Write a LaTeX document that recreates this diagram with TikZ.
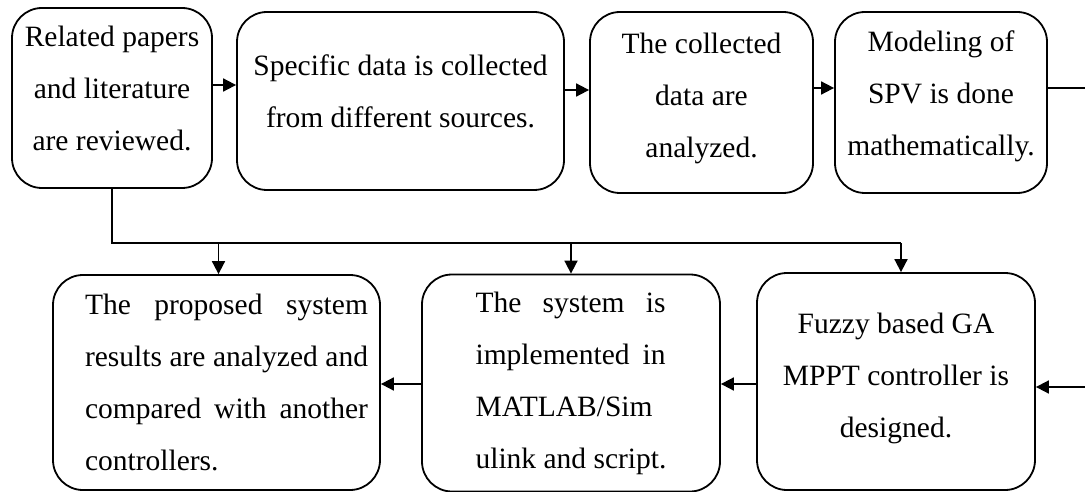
\documentclass[tikz,border=0pt]{standalone}
\usepackage{fontspec}
\setmainfont{Liberation Serif}
\usetikzlibrary{arrows.meta}
\newcommand\jline[2]{\makebox[#1][s]{#2}}
\begin{document}
\begin{tikzpicture}[x=1pt,y=-1pt,
  box/.style={draw,line width=1.8pt,rounded corners=30pt,inner sep=0pt,align=center,
    font=\fontsize{29.5}{52}\selectfont},
  conn/.style={line width=1.8pt},
  arr/.style={line width=1.8pt,-{Triangle[length=13pt,width=13pt]}}]
\useasboundingbox (0,0) rectangle (1085,492);
\node[box,minimum width=200pt,minimum height=180pt,text depth=19pt] (b1) at (112,98) {Related papers\\and literature\\are reviewed.};
\node[box,minimum width=327pt,minimum height=178pt,text depth=20pt] (b2) at (400.5,101) {Specific data is collected\\from different sources.};
\node[box,minimum width=223pt,minimum height=181pt,text depth=15pt] (b3) at (701.5,102.5) {The collected\\data are\\analyzed.};
\node[box,minimum width=212pt,minimum height=181pt,text depth=19pt] (b4) at (941,102.5) {Modeling of\\SPV is done\\mathematically.};
\node[box,minimum width=327pt,minimum height=215pt,align=left] (b5) at (216.5,382.5)
  {\hspace*{20pt}\jline{283pt}{The proposed system}\\\hspace*{20pt}\jline{283pt}{results are analyzed and}\\\hspace*{20pt}\jline{283pt}{compared with another}\\\hspace*{20pt}controllers.};
\node[box,minimum width=298pt,minimum height=217pt,align=left] (b6) at (571,383)
  {\jline{190pt}{The system is}\\\jline{190pt}{implemented in}\\MATLAB/Sim\\ulink and script.};
\node[box,minimum width=278pt,minimum height=217pt,text depth=13pt] (b7) at (896,381.5) {Fuzzy based GA\\MPPT controller is\\designed.};
\coordinate (ya) at (0,85);
\coordinate (yb) at (0,90);
\coordinate (yc) at (0,88);
\coordinate (bus) at (0,243);
\coordinate (yd) at (0,384);
\coordinate (ye) at (0,387);
\coordinate (loop) at (1100,88);
\draw[arr] (b1.east |- ya) -- (b2.west |- ya);
\draw[arr] (b2.east |- yb) -- (b3.west |- yb);
\draw[arr] (b3.east |- yc) -- (b4.west |- yc);
\draw[arr] (b4.east |- yc) -- (loop) |- (b7.east |- ye);
\draw[conn] (b1.south) |- ([xshift=5pt]b7.north |- bus);
\draw[arr] ([xshift=2pt]b5.north |- bus) -- ([xshift=2pt]b5.north);
\draw[arr] (b6.north |- bus) -- (b6.north);
\draw[arr] ([xshift=5pt]b7.north |- bus) -- ([xshift=5pt]b7.north);
\draw[arr] (b7.west |- yd) -- (b6.east |- yd);
\draw[arr] (b6.west |- yd) -- (b5.east |- yd);
\end{tikzpicture}
\end{document}
